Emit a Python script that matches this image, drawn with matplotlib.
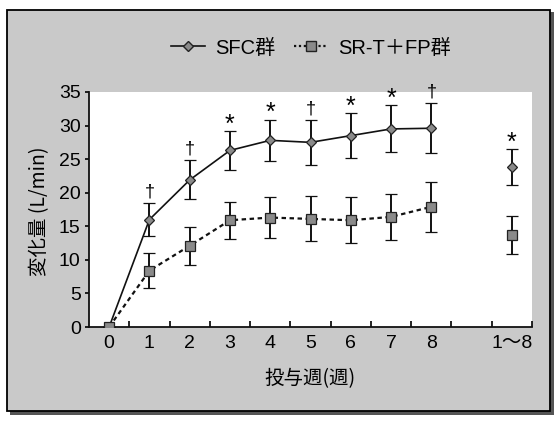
import matplotlib
matplotlib.use("Agg")
import matplotlib.pyplot as plt
from matplotlib.lines import Line2D
from matplotlib.patches import Rectangle
import numpy as np

plt.rcParams['font.family'] = ['Liberation Sans', 'Noto Sans CJK JP', 'DejaVu Sans']

categories = ["0", "1", "2", "3", "4", "5", "6", "7", "8", "", "1～8"]
line_weeks = [0, 1, 2, 3, 4, 5, 6, 7, 8]
overall_pos = 10

sfc_mean = [0, 16.0, 21.9, 26.3, 27.8, 27.5, 28.5, 29.5, 29.6]
sfc_err = [0, 2.5, 2.9, 2.85, 3.1, 3.35, 3.4, 3.5, 3.7]
sfc_overall = 23.8
sfc_overall_err = 2.7

srt_mean = [0, 8.4, 12.1, 15.9, 16.3, 16.1, 15.9, 16.4, 17.9]
srt_err = [0, 2.65, 2.85, 2.75, 3.05, 3.35, 3.4, 3.45, 3.75]
srt_overall = 13.7
srt_overall_err = 2.85

sig_marks = ["", "†", "†", "*", "*", "†", "*", "*", "†"]
sig_overall = "*"

yticks = [0, 5, 10, 15, 20, 25, 30, 35]

W, H = 557, 421
fig = plt.figure(figsize=(W / 100, H / 100), dpi=100)
fig.patch.set_facecolor('white')

# outer frame with gray background and shadow
shadow = Rectangle((10 / W, 1 - 415 / H), 544 / W, 403 / H, transform=fig.transFigure,
                   facecolor='#555555', edgecolor='none', zorder=-3)
frame = Rectangle((7 / W, 1 - 411 / H), 543 / W, 401 / H, transform=fig.transFigure,
                  facecolor='#c9c9c9', edgecolor='black', linewidth=1.3, zorder=-2)
fig.patches.extend([shadow, frame])

ax = fig.add_axes([89 / W, 1 - 327 / H, (532 - 89) / W, (327 - 92) / H])
ax.set_zorder(1)
ax.set_facecolor('white')

lc = '#111111'
mfc = '#8a8a8a'
mec = '#222222'
ax.errorbar(line_weeks, sfc_mean, yerr=sfc_err, color=lc, linewidth=1.2,
            marker='D', markersize=5.5, markerfacecolor=mfc, markeredgecolor=mec,
            markeredgewidth=0.9, ecolor=lc, elinewidth=1.4, capsize=4, capthick=1.4, zorder=3)
ax.errorbar(line_weeks, srt_mean, yerr=srt_err, color=lc, linewidth=1.6, linestyle=(0, (2, 1.6)),
            marker='s', markersize=6.5, markerfacecolor=mfc, markeredgecolor=mec,
            markeredgewidth=0.9, ecolor=lc, elinewidth=1.4, capsize=4, capthick=1.4, zorder=3)
ax.errorbar([overall_pos], [sfc_overall], yerr=[sfc_overall_err], color=lc, linestyle='none',
            marker='D', markersize=5.5, markerfacecolor=mfc, markeredgecolor=mec,
            markeredgewidth=0.9, ecolor=lc, elinewidth=1.4, capsize=4, capthick=1.4, zorder=3)
ax.errorbar([overall_pos], [srt_overall], yerr=[srt_overall_err], color=lc, linestyle='none',
            marker='s', markersize=6.5, markerfacecolor=mfc, markeredgecolor=mec,
            markeredgewidth=0.9, ecolor=lc, elinewidth=1.4, capsize=4, capthick=1.4, zorder=3)

def mark(x, y, s):
    if not s:
        return
    if s == '*':
        ax.annotate(s, (x, y), xytext=(0, -4), textcoords='offset points',
                    ha='center', va='bottom', fontsize=18, annotation_clip=False)
    else:
        ax.annotate(s, (x, y), xytext=(0, 2), textcoords='offset points',
                    ha='center', va='bottom', fontsize=13, annotation_clip=False)

for x, m, e, s in zip(line_weeks, sfc_mean, sfc_err, sig_marks):
    mark(x, m + e, s)
mark(overall_pos, sfc_overall + sfc_overall_err, sig_overall)

ax.set_xlim(-0.5, 10.5)
ax.set_ylim(0, 35)
ax.set_xticks(range(len(categories)))
ax.set_xticklabels(categories)
ax.set_xticks(np.arange(0.5, 11, 1), minor=True)
ax.tick_params(axis='x', which='major', length=0, labelsize=14, pad=6)
ax.tick_params(axis='x', which='minor', direction='in', length=4, width=1.2)
ax.set_yticks(yticks)
ax.tick_params(axis='y', which='major', direction='out', length=3, width=1.2, labelsize=14, pad=3)
for sp in ['top', 'right']:
    ax.spines[sp].set_visible(False)
for sp in ['left', 'bottom']:
    ax.spines[sp].set_linewidth(1.3)
    ax.spines[sp].set_color('#111111')

fig.text(40 / W, 1 - 211 / H, '変化量 (L/min)', rotation=90, ha='center', va='center',
         fontsize=14, family=['Noto Sans CJK JP', 'DejaVu Sans'])
fig.text(310 / W, 1 - 379 / H, '投与週(週)', ha='center', va='center',
         fontsize=14, family=['Noto Sans CJK JP', 'DejaVu Sans'])

handles = [
    Line2D([], [], color=lc, linewidth=1.2, marker='D', markersize=5.5,
           markerfacecolor=mfc, markeredgecolor=mec),
    Line2D([], [], color=lc, linewidth=1.6, linestyle=(0, (1, 1.2)), marker='s', markersize=6.5,
           markerfacecolor=mfc, markeredgecolor=mec),
]
fig.legend(handles, ['SFC群', 'SR-T＋FP群'], loc='center', bbox_to_anchor=(311 / W, 1 - 48 / H),
           ncol=2, frameon=False, handlelength=1.7, handletextpad=0.5,
           columnspacing=0.9, prop={'family': ['Liberation Sans', 'Noto Sans CJK JP'], 'size': 14.5})

fig.savefig('out.png', dpi=100)
